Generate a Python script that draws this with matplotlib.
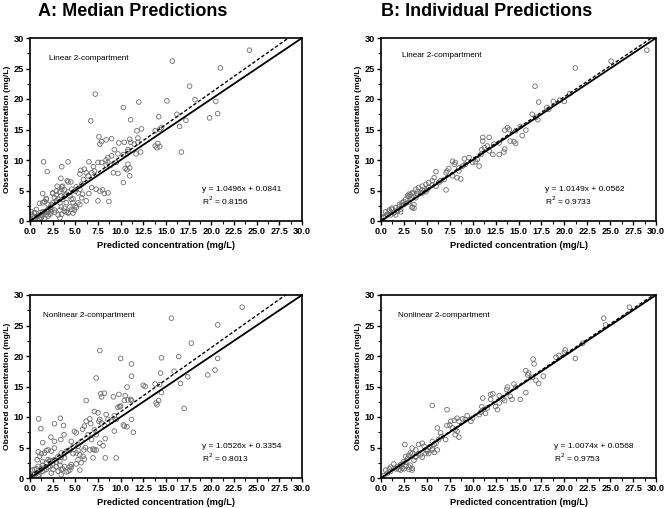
import numpy as np
import matplotlib
matplotlib.use("Agg")
import matplotlib.pyplot as plt
from matplotlib.ticker import MultipleLocator, FormatStrFormatter

plt.rcParams['font.family'] = ['Liberation Sans', 'DejaVu Sans']

# ---------------- data ----------------
a_pred = [24.2, 15.7, 21.0, 17.6, 7.2, 18.2, 15.1, 12.0, 20.5, 10.3, 16.2, 20.7, 19.8, 11.1, 6.7, 17.2, 14.2, 16.5,
          14.5, 14.3, 13.8, 12.3, 11.8, 16.7, 7.6, 9.0, 8.4, 7.7, 7.9, 11.0, 11.1, 10.4, 9.8, 11.9, 11.5, 11.9,
          14.1, 14.3, 14.0, 13.8, 12.2, 11.7, 9.3, 9.7, 10.3, 10.8, 10.8, 8.6, 9.0, 8.4, 7.9, 8.6, 8.4,
          6.5, 7.5, 7.0, 8.9, 9.5, 10.8, 10.5, 11.0, 10.7, 9.2, 9.7, 10.3, 11.0, 4.2, 1.5, 1.9, 3.5,
          5.6, 6.0, 5.5, 6.2, 5.9, 6.4, 6.8, 7.1, 3.4, 4.1, 4.5, 3.6, 3.0, 2.5, 2.9, 3.5,
          4.6, 5.0, 5.3, 5.5, 5.1, 5.7, 6.5, 6.8, 7.3, 7.7, 8.0, 8.2, 8.6, 7.5, 8.7,
          6.2, 5.8, 5.7, 5.3, 5.5, 5.0, 5.1, 4.6, 3.8, 4.2, 3.3, 3.5, 2.7, 2.4,
          0.15, 0.5, 0.9, 1.25, 1.4, 1.6, 1.8, 2.0, 2.2, 2.35, 2.55, 2.9, 3.1, 3.3, 3.6, 3.8, 4.0, 4.4, 4.55, 4.75,
          0.5, 1.05, 1.6, 2.0, 2.2, 1.2, 0.7, 0.35, 1.4, 1.8, 2.7, 3.45, 4.0, 4.75, 4.2, 2.0,
          0.15, 0.5, 0.7, 1.05, 1.25, 1.4, 1.8, 2.0, 2.2, 2.35, 2.7, 3.1, 3.3, 3.45, 3.8, 4.0, 4.2, 4.75, 4.9,
          4.4, 1.05, 1.6, 1.8, 1.4, 2.5, 2.9, 3.3, 3.8, 4.2, 3.5]
a_obs = [28.0, 26.2, 25.1, 22.1, 20.8, 19.9, 19.7, 19.5, 19.6, 18.6, 17.5, 17.6, 16.9, 16.6, 16.4, 16.5, 17.1, 15.5,
         15.3, 15.0, 14.8, 15.1, 14.8, 11.3, 13.8, 13.5, 13.3, 12.6, 13.0, 13.4, 12.9, 12.9, 12.8, 13.6, 12.6, 12.9,
         12.7, 12.2, 12.0, 12.3, 11.3, 11.0, 11.7, 11.0, 10.9, 11.7, 11.4, 10.4, 10.7, 10.0, 9.6, 9.6, 9.2,
         9.7, 9.6, 8.9, 9.1, 9.6, 9.3, 8.6, 8.7, 8.4, 7.9, 7.8, 6.3, 7.4, 9.7, 9.7, 8.1, 8.9,
         8.3, 8.5, 7.7, 7.9, 6.8, 7.4, 7.9, 8.2, 7.0, 6.6, 6.4, 5.7, 5.7, 4.6, 4.9, 5.2,
         5.2, 4.9, 4.6, 5.2, 5.6, 6.0, 4.5, 5.5, 5.2, 4.9, 5.1, 4.5, 4.6, 3.3, 3.2,
         3.3, 4.4, 3.8, 3.0, 2.7, 2.5, 2.2, 1.9, 1.6, 1.4, 0.5, 1.1, 1.4, 1.9,
         1.1, 1.4, 0.8, 0.55, 0.9, 1.4, 1.6, 1.9, 2.2, 2.7, 3.0, 3.3, 3.55, 3.0, 3.55, 4.1, 4.4, 4.1, 3.55, 3.0,
         0.55, 0.3, 0.4, 0.8, 1.1, 1.4, 1.9, 0.8, 3.0, 3.55, 3.8, 4.1, 3.0, 3.65, 4.75, 2.7,
         1.5, 1.3, 0.7, 0.4, 1.0, 1.5, 1.0, 1.5, 2.1, 1.5, 1.8, 1.0, 1.8, 2.3, 2.1, 1.5, 1.3, 1.3, 1.8,
         2.3, 2.9, 3.2, 3.7, 4.5, 4.5, 4.3, 4.8, 5.1, 6.4, 5.6]

b_pred = [29.0, 25.1, 21.2, 16.8, 17.2, 18.8, 19.5, 20.0, 20.6, 16.5, 17.1, 16.9, 18.1, 18.3,
          15.2, 15.8, 15.4, 14.7, 14.0, 13.5, 13.8, 14.5, 14.7, 14.1, 13.5, 13.4, 12.9, 12.3, 12.9, 12.2, 11.8,
          11.1, 11.1, 11.8, 11.6, 11.0, 10.9, 11.3, 10.5, 10.3, 10.7, 10.0, 9.6, 9.1, 9.2, 8.9, 8.5, 8.1, 8.0,
          7.8, 7.4, 7.2, 7.1, 7.8, 8.3, 8.7, 8.5, 6.9, 6.3, 7.1, 6.0,
          5.6, 5.2, 4.9, 4.5, 4.1, 4.5, 3.8, 3.4, 3.05, 2.9, 3.2, 3.6, 3.4, 2.7, 2.3, 2.0, 1.6, 1.2, 0.9, 0.7,
          0.5, 0.3, 1.4, 2.15, 1.8, 1.05, 2.5, 4.0, 5.05, 6.0, 6.5, 5.8, 5.2, 4.3, 4.7, 3.8, 3.05,
          0.5, 0.9, 1.2, 0.7, 1.4, 1.8, 2.0, 2.3, 2.5, 2.7, 3.05, 3.2, 3.4, 3.6, 3.4, 4.0, 4.5, 4.9, 5.6,
          0.3, 1.05, 1.6, 2.15]
b_obs = [28.0, 26.2, 25.1, 22.1, 19.5, 19.6, 19.8, 19.6, 20.9, 17.5, 16.6, 17.0, 18.6, 18.3,
         15.5, 14.9, 14.0, 14.8, 15.0, 14.9, 15.3, 13.0, 12.7, 13.1, 11.8, 11.3, 12.8, 12.6, 10.9, 10.9, 11.5,
         13.7, 13.1, 13.7, 12.3, 11.7, 10.9, 12.0, 10.1, 9.7, 9.0, 9.6, 10.4, 10.2, 9.3, 9.0, 8.7, 9.6, 9.3,
         9.8, 8.6, 8.2, 7.9, 7.4, 7.1, 6.9, 8.2, 6.8, 6.3, 5.1, 8.1,
         6.6, 6.3, 6.0, 5.7, 5.5, 4.6, 5.2, 4.6, 4.4, 4.1, 3.55, 2.7, 2.2, 3.55, 3.0, 2.7, 2.2, 1.9, 1.6, 1.1,
         0.8, 0.55, 1.4, 1.9, 1.6, 1.4, 2.7, 4.4, 5.2, 5.7, 6.6, 7.1, 5.5, 4.6, 4.9, 3.8, 3.1,
         1.5, 1.8, 2.1, 1.0, 1.3, 1.8, 2.3, 2.6, 3.2, 2.9, 4.0, 4.3, 2.3, 2.1, 4.5, 4.8, 5.1, 4.8, 5.9,
         0.7, 1.0, 1.0, 1.5]

c_pred = [23.4, 15.6, 20.7, 17.8, 7.7, 10.0, 11.2, 14.5, 16.4, 20.7, 7.3, 11.2, 15.9, 14.4, 20.4, 19.6, 17.4, 16.6,
          12.5, 12.7, 13.8, 14.3, 14.5, 10.7, 7.8, 8.2, 7.9, 9.8, 9.2, 10.5, 11.1, 10.4, 10.8, 11.2, 9.7, 9.9, 10.0,
          13.9, 14.2, 14.0, 17.0, 6.2,
          7.1, 7.5, 7.7, 7.6, 7.9, 8.4, 8.6, 8.2, 9.0, 9.3, 9.5, 10.4, 10.7, 11.2, 11.4, 10.3, 9.3,
          0.95, 1.2, 3.35, 2.7, 1.4, 3.7, 2.3, 2.7, 3.4, 3.75, 4.9, 5.1, 5.8, 6.0, 6.6, 6.7, 6.2, 6.4, 7.1, 7.3,
          6.8, 8.3, 7.7, 8.05, 7.3, 7.1, 6.95, 6.6, 6.1, 5.95, 5.3, 5.65, 4.55, 4.75, 4.4, 5.1, 5.5, 5.85, 5.3,
          5.65, 6.0, 6.95, 8.3, 9.5, 4.55, 4.4, 3.8, 3.45, 3.1, 2.55, 2.2, 1.8, 1.4, 0.8, 1.05, 1.6, 2.0, 2.35,
          2.7, 3.1, 3.45, 4.0, 3.8, 3.3, 2.7, 2.0, 1.25, 0.5, 0.7, 0.35, 1.05, 1.4, 0.9, 1.8, 2.35, 3.45, 4.2,
          2.9, 2.2,
          0.3, 0.7, 1.05, 1.25, 1.4, 1.6, 2.0, 0.5, 0.9, 2.2, 2.5, 2.9, 3.3, 3.6, 4.0, 4.4, 4.55, 5.1, 5.5,
          3.45, 3.8, 4.2, 4.75, 5.3, 1.25, 0.9, 1.8]
c_obs = [28.0, 26.2, 25.1, 22.1, 20.9, 19.6, 18.7, 19.7, 19.9, 19.6, 16.4, 16.7, 17.5, 17.2, 17.7, 16.9, 16.6, 15.5,
         15.2, 15.0, 15.4, 15.3, 14.0, 14.9, 13.8, 13.9, 13.3, 13.7, 13.3, 13.5, 12.9, 12.7, 12.8, 12.7, 11.6, 11.7, 11.8,
         12.3, 12.7, 12.0, 11.4, 12.7,
         10.9, 10.7, 9.6, 9.3, 9.0, 10.4, 9.6, 8.6, 9.3, 10.2, 9.6, 8.5, 8.4, 9.6, 7.5, 8.7, 7.7,
         9.7, 8.1, 9.8, 8.9, 5.8, 8.6, 6.7, 6.0, 6.3, 7.1, 7.65, 7.4, 8.0, 8.5, 9.7, 8.9, 9.3, 7.1, 7.9, 7.1,
         6.3, 6.45, 5.7, 5.3, 4.6, 4.6, 4.75, 4.6, 5.0, 4.6, 5.2, 6.0, 6.0, 5.2, 4.6, 4.1, 3.8, 3.55, 3.0,
         2.5, 3.1, 3.3, 3.3, 3.3, 2.2, 1.9, 1.9, 1.4, 1.1, 1.4, 1.9, 2.5, 2.7, 3.0, 3.55, 4.1, 4.6, 4.4,
         4.9, 3.55, 4.1, 4.4, 3.3, 2.7, 3.0, 3.0, 1.6, 1.4, 0.8, 0.55, 0.55, 1.1, 1.9, 1.4, 0.8, 0.55, 1.1,
         1.9, 2.7,
         1.3, 1.5, 1.0, 1.5, 2.1, 1.3, 1.8, 0.7, 0.4, 2.9, 2.3, 2.6, 2.1, 1.5, 1.0, 1.3, 1.8, 2.3, 1.3,
         3.4, 4.0, 4.5, 4.0, 4.5, 4.0, 4.3, 4.5]

d_pred = [27.1, 24.3, 24.5, 22.0, 21.2, 20.1, 19.1, 19.4, 20.0, 16.6, 16.7,
          15.8, 16.1, 16.0, 16.5, 17.2, 17.7, 16.9,
          15.8, 15.2, 14.5, 14.7, 13.8, 13.7, 14.1, 14.3, 13.5, 13.3, 12.9, 12.7, 12.5, 12.9, 12.2, 11.96, 11.96,
          11.1, 11.0, 11.2, 10.9, 11.4, 11.6, 10.7,
          5.6, 7.2, 6.15, 2.6,
          10.0, 9.8, 9.4, 9.2, 8.9, 8.5, 8.3, 8.0, 7.6, 7.5, 7.8, 8.1, 8.3, 8.5, 8.1, 7.2, 7.05, 6.6, 6.5, 6.3,
          6.0, 5.8, 5.6, 5.3, 4.9, 4.7, 4.5, 4.1, 3.8, 3.4, 3.2, 2.7, 2.5, 2.15, 1.8, 1.4, 1.05, 0.7, 0.3,
          1.95, 3.05, 3.4, 2.7, 2.3, 3.8, 4.3, 5.05, 5.6, 5.8, 6.15,
          0.5, 0.9, 1.05, 1.4, 1.6, 2.0, 2.3, 2.7, 3.05, 3.2, 3.4, 3.6, 2.5, 2.15, 3.8, 3.4, 3.05, 2.9,
          4.1, 4.5, 4.9, 5.05, 5.2, 5.6]
d_obs = [28.0, 26.2, 25.1, 22.1, 19.6, 21.0, 19.8, 20.1, 20.6, 19.5, 18.7,
         17.6, 17.2, 16.9, 16.5, 15.5, 16.7, 16.0,
         14.0, 12.9, 15.4, 14.9, 14.9, 14.5, 13.4, 12.9, 12.7, 13.0, 12.3, 11.2, 11.7, 13.5, 13.8, 13.7, 12.9,
         13.1, 11.7, 11.2, 10.8, 10.6, 11.5, 10.4,
         11.9, 11.2, 8.2, 5.5,
         9.8, 9.3, 10.2, 9.6, 9.7, 9.3, 9.8, 9.45, 9.3, 8.7, 8.2, 7.9, 7.65, 6.7, 7.1, 8.6, 6.3, 6.8, 7.4, 6.3,
         5.7, 5.5, 6.0, 5.1, 4.6, 5.2, 5.7, 5.5, 4.6, 4.9, 4.1, 3.55, 2.7, 2.2, 1.9, 1.6, 1.1, 0.8, 0.4,
         1.4, 1.4, 1.6, 1.9, 1.6, 3.55, 3.8, 4.4, 4.6, 4.2, 4.6,
         1.3, 1.5, 1.8, 2.3, 1.5, 1.9, 2.3, 2.6, 1.8, 2.1, 1.3, 2.9, 1.5, 1.3, 3.4, 4.0, 3.7, 3.2,
         4.0, 3.4, 4.0, 4.5, 4.0, 4.8]

slopes = [1.0496, 1.0149, 1.0526, 1.0074]
intercepts = [0.0841, 0.0562, 0.3354, 0.0568]
r2_values = ["0.8156", "0.9733", "0.8013", "0.9753"]
eq_texts = ["y = 1.0496x + 0.0841", "y = 1.0149x + 0.0562", "y = 1.0526x + 0.3354", "y = 1.0074x + 0.0568"]
model_labels = ["Linear 2-compartment", "Linear 2-compartment", "Nonlinear 2-compartment", "Nonlinear 2-compartment"]
titles = ["A: Median Predictions", "B: Individual Predictions"]
xlabel = "Predicted concentration (mg/L)"
ylabel = "Observed concentration (mg/L)"

preds = [a_pred, b_pred, c_pred, d_pred]
obss = [a_obs, b_obs, c_obs, d_obs]

# ---------------- layout ----------------
W, H = 664, 508
fig = plt.figure(figsize=(W / 100, H / 100), dpi=100)

# axes boxes in pixels: left, top, right, bottom
boxes = [(30, 38, 302, 221), (381, 38, 656, 221), (30, 295, 302, 478), (381, 295, 656, 478)]
label_pos = [(2.05, 26.6), (2.25, 27.2), (1.4, 26.6), (1.8, 26.6)]
eq_pos = [19.0, 17.9, 19.0, 18.9]

for i, (l, t, r, b) in enumerate(boxes):
    ax = fig.add_axes([l / W, 1 - b / H, (r - l) / W, (b - t) / H])
    ax.set_xlim(0, 30)
    ax.set_ylim(0, 30)
    ax.scatter(preds[i], obss[i], s=11, facecolors='none', edgecolors='#6e6e6e', linewidths=0.6, zorder=2)
    xs = np.array([0, 30])
    ax.plot(xs, xs, color='black', lw=1.3, zorder=3)
    ax.plot(xs, slopes[i] * xs + intercepts[i], color='black', lw=1.0, ls=(0, (2.5, 1.5)), zorder=3)
    ax.xaxis.set_major_locator(MultipleLocator(2.5))
    ax.xaxis.set_minor_locator(MultipleLocator(1.25))
    ax.yaxis.set_major_locator(MultipleLocator(5))
    ax.yaxis.set_minor_locator(MultipleLocator(2.5))
    ax.xaxis.set_major_formatter(FormatStrFormatter('%.1f'))
    ax.tick_params(which='major', direction='out', length=3, width=1.0, labelsize=6.6, pad=1.5)
    ax.tick_params(which='minor', direction='out', length=2, width=0.8)
    for lab in ax.get_xticklabels() + ax.get_yticklabels():
        lab.set_fontweight('bold')
    for sp in ax.spines.values():
        sp.set_linewidth(1.2)
    ax.set_xlabel(xlabel, fontsize=6.7, fontweight='bold', labelpad=3.5)
    ax.set_ylabel(ylabel, fontsize=6.1, fontweight='bold', labelpad=2)
    ax.text(label_pos[i][0], label_pos[i][1], model_labels[i], fontsize=5.9, va='center', ha='left')
    ax.text(eq_pos[i], 5.1, eq_texts[i], fontsize=6.0, va='center', ha='left')
    ax.text(eq_pos[i], 3.3, "R$^2$ = " + r2_values[i], fontsize=6.0, va='center', ha='left')

fig.text(132.5 / W, 1 - 12 / H, titles[0], fontsize=13, fontweight='bold', ha='center', va='center')
fig.text(487 / W, 1 - 12 / H, titles[1], fontsize=13, fontweight='bold', ha='center', va='center')

fig.savefig("out.png", dpi=100)
